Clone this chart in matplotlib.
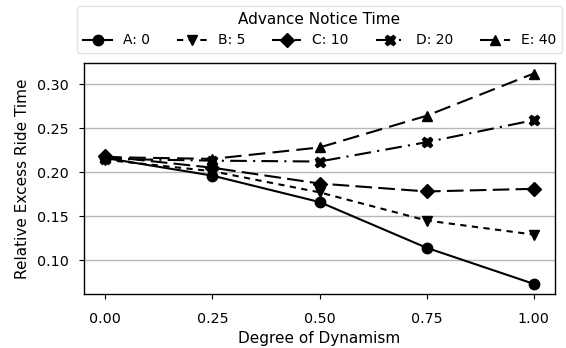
import matplotlib
matplotlib.use("Agg")
import matplotlib.pyplot as plt

dynamism = [0.0, 0.25, 0.5, 0.75, 1.0]
labels = ["A: 0", "B: 5", "C: 10", "D: 20", "E: 40"]
series_A = [0.216, 0.196, 0.166, 0.114, 0.073]
series_B = [0.214, 0.201, 0.177, 0.145, 0.129]
series_C = [0.218, 0.205, 0.187, 0.178, 0.181]
series_D = [0.215, 0.213, 0.212, 0.234, 0.259]
series_E = [0.217, 0.215, 0.228, 0.264, 0.312]
xticks = [0.00, 0.25, 0.50, 0.75, 1.00]
yticks = [0.10, 0.15, 0.20, 0.25, 0.30]

markers = ["o", "v", "D", "X", "^"]
dashes = [None, (3.0, 2.6), (8, 3), (8, 3, 1, 3), (8, 3.5)]

plt.rcParams["font.family"] = ["DejaVu Sans"]
plt.rcParams["font.size"] = 10

fig = plt.figure(figsize=(5.66, 3.48), dpi=100)
ax = fig.add_axes([0.148, 0.154, 0.833, 0.665])

all_series = [series_A, series_B, series_C, series_D, series_E]
for vals, lab, m, d in zip(all_series, labels, markers, dashes):
    kw = dict(color="black", marker=m, markersize=7.5, linewidth=1.5, label=lab)
    if d is None:
        ax.plot(dynamism, vals, linestyle="-", **kw)
    else:
        ax.plot(dynamism, vals, dashes=d, **kw)

ax.set_xticks(xticks)
ax.set_xticklabels([f"{t:.2f}" for t in xticks])
ax.set_yticks(yticks)
ax.set_yticklabels([f"{t:.2f}" for t in yticks])
ax.tick_params(labelsize=10.3)
ax.tick_params(axis="x", pad=9.5)
ax.tick_params(axis="y", pad=7.5)
ax.yaxis.grid(True, color="#b8b8b8", linewidth=1.0)
ax.set_axisbelow(True)
ax.set_xlabel("Degree of Dynamism", fontsize=11, labelpad=3)
ax.set_ylabel("Relative Excess Ride Time", fontsize=11, labelpad=5)
for s in ax.spines.values():
    s.set_color("black")
    s.set_linewidth(1.0)

leg = ax.legend(title="Advance Notice Time", ncol=5, loc="lower center",
                bbox_to_anchor=(0.5, 1.043), frameon=True, fancybox=True,
                handlelength=2.1, columnspacing=1.95, handletextpad=0.8,
                borderaxespad=0.0, fontsize=10, title_fontsize=11)
leg.get_frame().set_edgecolor("#dddddd")

fig.savefig("out.png", dpi=100)
